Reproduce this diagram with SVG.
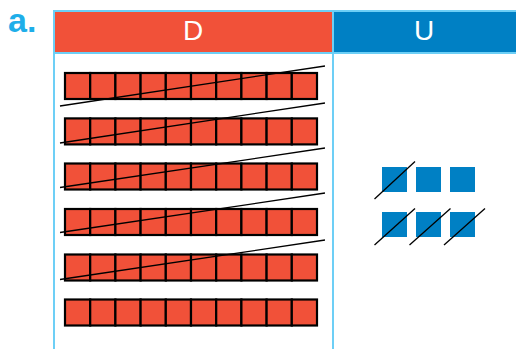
<svg xmlns="http://www.w3.org/2000/svg" width="516" height="349" viewBox="0 0 516 349">
<defs>
<style>
.lbl{font-family:"Liberation Sans",Arial,sans-serif;fill:#1eaee9;font-weight:bold;font-size:34px}
.hd{font-family:"Liberation Sans",Arial,sans-serif;fill:#ffffff;font-size:28px;text-anchor:middle}
.brd{stroke:#6dcff6;stroke-width:2;fill:none}
.cell{fill:#f15139;stroke:#000;stroke-width:2.2}
.u{fill:#0080c4}
.sl{stroke:#000;stroke-width:1.3;fill:none}
</style>
<g id="rowtpl">
<rect class="cell" x="0" y="0" width="25.2" height="26"/>
<rect class="cell" x="25.2" y="0" width="25.2" height="26"/>
<rect class="cell" x="50.4" y="0" width="25.2" height="26"/>
<rect class="cell" x="75.6" y="0" width="25.2" height="26"/>
<rect class="cell" x="100.8" y="0" width="25.2" height="26"/>
<rect class="cell" x="126" y="0" width="25.2" height="26"/>
<rect class="cell" x="151.2" y="0" width="25.2" height="26"/>
<rect class="cell" x="176.4" y="0" width="25.2" height="26"/>
<rect class="cell" x="201.6" y="0" width="25.2" height="26"/>
<rect class="cell" x="226.8" y="0" width="25.2" height="26"/>
</g>
</defs>
<rect width="516" height="349" fill="#fff"/>
<text id="label" class="lbl" x="8" y="32">a.</text>
<g id="header-D">
<rect x="54" y="11" width="279" height="42" fill="#f15139"/>
<text class="hd" x="193" y="40">D</text>
</g>
<g id="header-U">
<rect x="333" y="11" width="183" height="42" fill="#0080c4"/>
<text class="hd" x="424" y="40">U</text>
</g>
<g id="table-lines">
<line class="brd" x1="53" y1="11" x2="516" y2="11"/>
<line class="brd" x1="53" y1="53" x2="516" y2="53"/>
<line class="brd" x1="54" y1="10" x2="54" y2="349"/>
<line class="brd" x1="333" y1="10" x2="333" y2="349"/>
</g>
<g id="tens">
<use href="#rowtpl" x="65" y="73"/>
<use href="#rowtpl" x="65" y="118.4"/>
<use href="#rowtpl" x="65" y="163.5"/>
<use href="#rowtpl" x="65" y="209"/>
<use href="#rowtpl" x="65" y="254.5"/>
<use href="#rowtpl" x="65" y="299.5"/>
</g>
<g id="units">
<rect class="u" x="382" y="167" width="25" height="25"/>
<rect class="u" x="416" y="167" width="25" height="25"/>
<rect class="u" x="450" y="167" width="25" height="25"/>
<rect class="u" x="382" y="212" width="25" height="25"/>
<rect class="u" x="416" y="212" width="25" height="25"/>
<rect class="u" x="450" y="212" width="25" height="25"/>
</g>
<g id="connectors">
<line class="sl" x1="60" y1="106" x2="325" y2="66"/>
<line class="sl" x1="60" y1="143" x2="325" y2="103"/>
<line class="sl" x1="60" y1="187.5" x2="325" y2="148"/>
<line class="sl" x1="60" y1="232.5" x2="325" y2="193"/>
<line class="sl" x1="60" y1="279.5" x2="325" y2="240"/>
<line class="sl" x1="374.5" y1="199" x2="415" y2="161.5"/>
<line class="sl" x1="374.5" y1="245" x2="415" y2="208.5"/>
<line class="sl" x1="409.5" y1="245" x2="450.5" y2="208.5"/>
<line class="sl" x1="444" y1="245" x2="485" y2="208.5"/>
</g>
</svg>
